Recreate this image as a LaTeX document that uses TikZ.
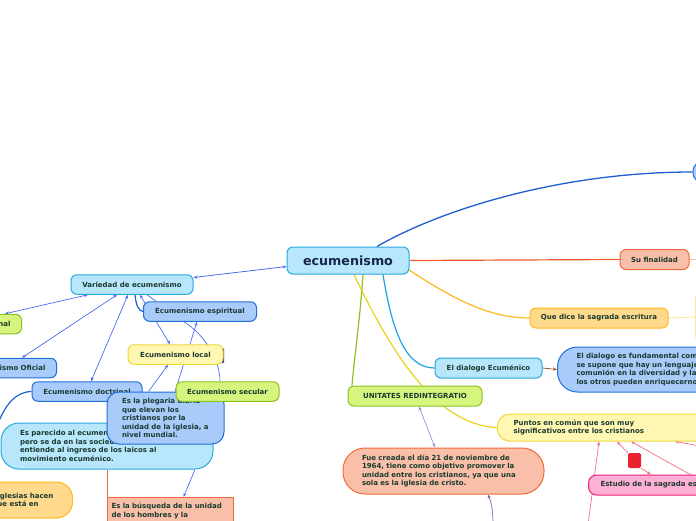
\documentclass[tikz,border=0pt]{standalone}
\usepackage{fontspec}
\setmainfont{DejaVu Sans}
\usetikzlibrary{arrows.meta,backgrounds}
\definecolor{txt}{HTML}{1A3A30}
\definecolor{navy}{HTML}{16284F}
\definecolor{lbF}{HTML}{B8E6FA}\definecolor{lbD}{HTML}{2AA8E0}
\definecolor{mbF}{HTML}{A9CBFA}\definecolor{mbD}{HTML}{1E6FD9}
\definecolor{gnF}{HTML}{D5F57F}\definecolor{gnD}{HTML}{8CC21E}
\definecolor{ylF}{HTML}{FFF7B2}\definecolor{ylD}{HTML}{F0D83A}
\definecolor{orF}{HTML}{FFD98C}\definecolor{orD}{HTML}{FFB71A}
\definecolor{saF}{HTML}{F9BFA8}\definecolor{saD}{HTML}{F26A3A}
\definecolor{pkF}{HTML}{FFB0D4}\definecolor{pkD}{HTML}{E8207A}
\definecolor{rqF}{HTML}{E8222E}
\definecolor{arB}{HTML}{4A6CF0}
\definecolor{pkL}{HTML}{F07080}
\definecolor{lav}{HTML}{9B8FD0}
\definecolor{pur}{HTML}{8A5AA8}
\definecolor{brn}{HTML}{A0522D}
\definecolor{cB}{HTML}{1E5FD0}
\definecolor{cR}{HTML}{F05A28}
\definecolor{cC}{HTML}{1AA3E8}
\definecolor{cY}{HTML}{E8D21A}
\definecolor{qdE}{HTML}{FFE4A8}
\definecolor{tabB}{HTML}{1A3FC0}
\begin{document}
\begin{tikzpicture}[x=1pt,y=-1pt,
  >={Stealth[length=4pt,width=3.2pt]},
  box/.style={draw, line width=1pt, rounded corners=6pt, inner sep=0pt, text=txt,
    font=\fontsize{7}{8.5}\selectfont\bfseries},
  lb/.style={box, fill=lbF, draw=lbD},
  mb/.style={box, fill=mbF, draw=mbD},
  gn/.style={box, fill=gnF, draw=gnD},
  yl/.style={box, fill=ylF, draw=ylD},
  orn/.style={box, fill=orF, draw=orD},
  sa/.style={box, fill=saF, draw=saD},
  pk/.style={box, fill=pkF, draw=pkD},
  one/.style={minimum height=19.5pt},
  thin/.style={line width=0.7pt}]
\useasboundingbox (0,0) rectangle (696,520);
\clip (0,0) rectangle (696,520);

% nodes
\node[lb, minimum width=122pt, minimum height=27pt, font=\fontsize{12.7}{14}\selectfont\bfseries, text=navy] (ecu) at (348,260.5) {ecumenismo};
\node[lb, one, minimum width=122pt] (var) at (132,284.5) {Variedad de ecumenismo};
\node[gn, one, anchor=east, text width=80pt, inner xsep=11pt, align=right] (nal) at (22,324) {nal};
\node[mb, one, anchor=east, text width=80pt, inner xsep=11pt, align=right] (ofi) at (57,368) {ismo Oficial};
\node[mb, one, minimum width=113pt] (esp) at (200,311.5) {Ecumenismo espiritual};
\node[fill=tabB, minimum width=6pt, minimum height=15pt, inner sep=0pt, rounded corners=1pt] (tab) at (221,355.5) {};
\node[yl, one, minimum width=95pt] (loc) at (175.5,354.5) {Ecumenismo local};
\node[mb, one, minimum width=110pt] (doc) at (87,391.5) {Ecumenismo doctrinal};
\node[lb, rounded corners=18pt, minimum width=212pt, minimum height=46pt, text width=174pt, inner xsep=19pt, align=left] (par) at (107,446) {Es parecido al ecumeni\\pero se da en las socieda\\entiende al ingreso de los laicos al\\movimiento ecuménico.};
\node[mb, rounded corners=12pt, minimum width=117pt, minimum height=52pt, text width=87pt, inner xsep=15pt, align=left] (pleg) at (165.5,418) {Es la plegaria diaria\\que elevan los\\cristianos por la\\unidad de la iglesia, a\\nivel mundial.};
\node[gn, one, minimum width=103pt] (sec) at (227.5,391.5) {Ecumenismo secular};
\node[orn, rounded corners=16pt, anchor=east, minimum height=36pt, text width=58pt, inner xsep=17pt, align=left] (igl) at (73,500) {\mbox{iglesias hacen}\\\mbox{ue está en}};
\node[sa, rounded corners=0pt, anchor=north west, text width=118pt, inner xsep=4pt, inner ysep=5.5pt, align=left] (bus) at (107,497) {Es la búsqueda de la unidad\\de los hombres y la};
\node[sa, minimum width=69pt, minimum height=20pt] (fin) at (654.5,259.5) {Su finalidad};
\node[orn, minimum width=138pt, minimum height=20pt] (qds) at (599,318) {Que dice la sagrada escritura};
\node[draw=qdE, fill=white, line width=1pt, rounded corners=8pt, anchor=west, minimum width=60pt, minimum height=52pt, inner sep=0pt] (qdR) at (695,317) {};
\node[lb, minimum width=107pt, minimum height=20pt] (dlg) at (488.5,368) {El dialogo Ecuménico};
\node[mb, rounded corners=20pt, anchor=west, minimum height=45pt, text width=200pt, inner xsep=19pt, align=left] (dfun) at (557,369.5) {El dialogo es fundamental com\\se supone que hay un lenguaje\\comunión en la diversidad y la\\los otros pueden enriquecerno};
\node[gn, minimum width=134pt, minimum height=20pt] (una) at (415,396) {UNITATES REDINTEGRATIO};
\node[yl, rounded corners=12pt, anchor=west, minimum height=27pt, text width=200pt, inner xsep=16pt, align=left] (pun) at (497,427.5) {Puntos en común que son muy\\significativos entre los cristianos};
\node[sa, rounded corners=22pt, minimum width=201pt, minimum height=46pt, text width=163pt, inner xsep=19pt, align=left] (fue) at (443.5,471) {Fue creada el día 21 de noviembre de\\1964, tiene como objetivo promover la\\unidad entre los cristianos, ya que una\\sola es la iglesia de cristo.};
\node[fill=rqF, rounded corners=2pt, minimum width=13pt, minimum height=15pt, inner sep=0pt] (rq) at (634.5,460.5) {};
\node[pk, rounded corners=8pt, anchor=west, minimum height=20pt, text width=120pt, inner xsep=12pt, align=left] (est) at (588,485) {Estudio de la sagrada es};
\node[mb, anchor=west, minimum width=60pt, minimum height=20pt, rounded corners=9pt] (tr) at (692.5,172) {};

\coordinate (finR) at (700,259.5);
\coordinate (dL) at (-3,426);
\coordinate (pB) at (588,525);
\coordinate (pR1) at (700,480);
\coordinate (pR2) at (700,446);
\coordinate (pP) at (493,525);

% connectors
\begin{scope}[on background layer]
\draw[cB, line width=1.3pt] ([xshift=29pt]ecu.north) .. controls (440,210) and (560,172) .. (tr.west);
\draw[cR, line width=1.2pt] (ecu.east) -- (fin.west);
\draw[saF, line width=1pt] (fin.east) -- (finR);
\draw[orD, line width=1.2pt] (ecu.-9) .. controls (455,300) and (490,318) .. (qds.west);
\draw[qdE, line width=1pt] (qds.east) -- (qdR.west);
\draw[cC, line width=1.2pt] ([xshift=35pt]ecu.south) .. controls (392,330) and (405,368) .. (dlg.west);
\draw[gnD, line width=1.2pt] ([xshift=15pt]ecu.south) .. controls (360,320) and (354,360) .. ([xshift=-63pt]una.north);
\draw[cY, line width=1.2pt] ([xshift=6pt]ecu.south) .. controls (390,350) and (435,425) .. (pun.west);
\draw[brn, ->, line width=0.8pt] (dlg.east) -- (dfun.west);
\draw[lav, <->, thin] ([xshift=4pt]una.south) -- ([xshift=-8.5pt]fue.north);
\draw[arB, <->, line width=0.8pt] ([yshift=7pt]var.east) -- ([yshift=-6pt]ecu.west);
\draw[arB, <->, thin] ([xshift=-44pt]var.south) -- ([xshift=-17pt]nal.north east);
\draw[arB, <->, thin] ([xshift=-15pt]var.south) -- ([xshift=-35pt]ofi.north east);
\draw[arB, <->, thin] ([xshift=-4pt]var.south) -- ([xshift=4pt]doc.north);
\draw[cB, line width=1.2pt] ([xshift=3pt]var.south) .. controls (136,306) and (139,311) .. (esp.west);
\draw[arB, <->, thin] ([xshift=8pt]var.south) -- ([xshift=-5.5pt]loc.north);
\draw[arB, thin] ([xshift=15pt]var.south) -- ([xshift=-44pt]esp.north);
\draw[arB, thin] ([xshift=-16pt]esp.south) .. controls (205,335) and (220,360) .. ([xshift=-7.5pt]sec.north);
\draw[arB, ->, thin] ([xshift=-17pt]pleg.north) -- ([xshift=-7.5pt]loc.south);
\draw[arB, ->, thin] ([xshift=9.5pt]pleg.north) -- ([xshift=-3pt]esp.south);
\draw[arB, ->, thin] ([xshift=88pt]par.south) -- ([xshift=13pt]bus.north);
\draw[saD, line width=1pt] (bus.north west) -- (bus.north west |- par.south);
\draw[cB, line width=1.2pt] (doc.west) .. controls (15,392) and (5,405) .. (dL);
\draw[pkL, ->, thin] (pB) -- ([xshift=102pt]pun.south west);
\draw[pkL, ->, thin] (rq.north west) -- ([xshift=120pt]pun.south west);
\draw[pkL, ->, thin] (rq.south east) -- ([xshift=63pt]est.north west);
\draw[pkL, ->, thin] (pR1) -- ([xshift=134pt]pun.south west);
\draw[pkL, ->, thin] (pR2) -- ([xshift=178pt]pun.south west);
\draw[pur, ->, thin] (pP) .. controls (493,505) and (490,500) .. ([xshift=44.5pt]fue.south);
\end{scope}
\end{tikzpicture}
\end{document}
